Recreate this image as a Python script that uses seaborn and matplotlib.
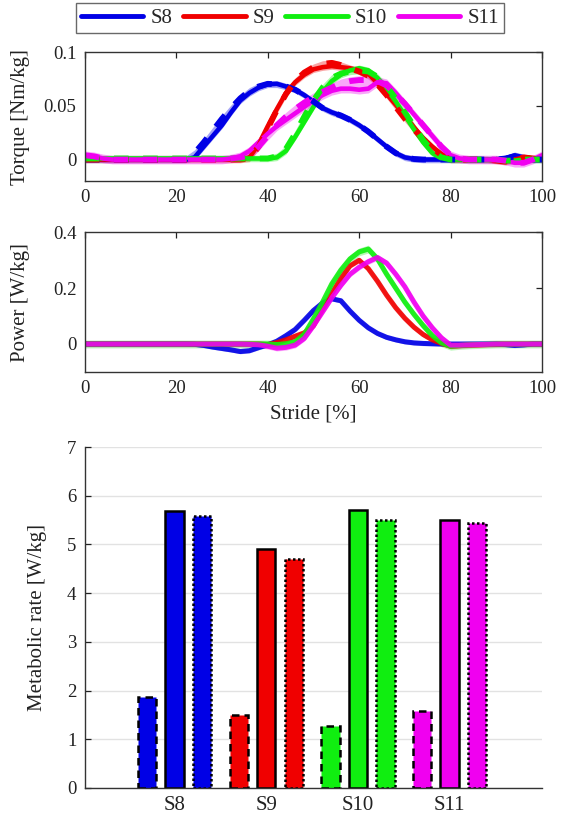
import numpy as np
import pandas as pd
import matplotlib
matplotlib.use("Agg")
import matplotlib.pyplot as plt
from matplotlib.lines import Line2D
import seaborn as sns

# ---------------------------------------------------------------- data
SUBJECTS = ["S8", "S9", "S10", "S11"]
COLORS = ["#0000e6", "#f00000", "#10ee10", "#f000f0"]

STRIDE = list(range(0, 101, 2))  # stride [%]

# ankle torque [Nm/kg], measured (solid) and commanded (dashed)
TORQUE_S8 = [0, 0, 0, 0, 0, 0, 0, 0, 0, 0, 0, 0, 0.002, 0.012, 0.022, 0.032, 0.044,
             0.055, 0.062, 0.067, 0.070, 0.0705, 0.068, 0.065, 0.060, 0.054, 0.048,
             0.044, 0.041, 0.037, 0.032, 0.026, 0.019, 0.012, 0.006, 0.002, 0.0005,
             0, 0, 0, 0, 0, 0, 0, 0, 0, 0.001, 0.004, 0.002, 0, 0]
TORQUE_S8_CMD = [0, 0, 0, 0, 0, 0, 0, 0, 0, 0, 0, 0, 0.006, 0.016, 0.027, 0.038, 0.048,
                 0.057, 0.064, 0.068, 0.0705, 0.070, 0.068, 0.065, 0.060, 0.054, 0.048,
                 0.044, 0.041, 0.037, 0.032, 0.026, 0.019, 0.012, 0.006, 0.002, 0.0005,
                 0, 0, 0, 0, 0, 0, 0, 0, 0, 0.001, 0.003, 0.002, 0, 0]
TORQUE_S9 = [0, 0, 0, 0, 0, 0, 0, 0, 0, 0, 0, 0, 0, 0, 0, 0, 0, 0, 0.002, 0.014, 0.031,
             0.047, 0.062, 0.072, 0.079, 0.084, 0.086, 0.087, 0.086, 0.085, 0.083,
             0.080, 0.071, 0.061, 0.051, 0.041, 0.030, 0.020, 0.012, 0.005, 0.001,
             0, 0, 0, 0, -0.001, -0.002, 0.000, 0.002, 0.001, 0]
TORQUE_S9_CMD = [0, 0, 0, 0, 0, 0, 0, 0, 0, 0, 0, 0, 0, 0, 0, 0, 0, 0, 0.001, 0.012,
                 0.029, 0.046, 0.061, 0.073, 0.081, 0.086, 0.089, 0.090, 0.088, 0.085,
                 0.082, 0.078, 0.070, 0.060, 0.049, 0.038, 0.028, 0.019, 0.011, 0.004,
                 0, 0, 0, 0, 0, -0.001, -0.002, 0.000, 0.002, 0.001, 0]
TORQUE_S10 = [0.001, 0.001, 0.001, 0.001, 0.001, 0.001, 0.001, 0.001, 0.001, 0.001,
              0.001, 0.001, 0.001, 0.001, 0.001, 0.001, 0.001, 0.001, 0.001, 0.001,
              0.001, 0.002, 0.008, 0.021, 0.035, 0.049, 0.063, 0.073, 0.079, 0.083,
              0.085, 0.083, 0.076, 0.066, 0.054, 0.041, 0.028, 0.016, 0.006, 0.001,
              0, 0, 0, 0, 0, 0, -0.001, -0.001, 0, 0, 0]
TORQUE_S10_CMD = [0.001, 0.001, 0.001, 0.001, 0.001, 0.001, 0.001, 0.001, 0.001, 0.001,
                  0.001, 0.001, 0.001, 0.001, 0.001, 0.001, 0.001, 0.001, 0.001, 0.001,
                  0.001, 0.003, 0.010, 0.024, 0.040, 0.055, 0.067, 0.076, 0.080, 0.082,
                  0.083, 0.082, 0.077, 0.068, 0.057, 0.044, 0.031, 0.018, 0.008, 0.002,
                  0, 0, 0, 0, 0, 0, -0.001, -0.001, 0, 0, 0]
TORQUE_S11 = [0.004, 0.003, 0.001, 0, 0, 0, 0, 0, 0, 0, 0, 0, 0, 0, 0, 0, 0.001, 0.003,
              0.008, 0.016, 0.024, 0.031, 0.037, 0.043, 0.049, 0.055, 0.060, 0.064,
              0.066, 0.066, 0.065, 0.066, 0.072, 0.071, 0.062, 0.052, 0.042, 0.032,
              0.022, 0.012, 0.004, 0.001, 0, 0, 0, 0, -0.001, -0.003, -0.003, 0.000, 0.004]
TORQUE_S11_CMD = [0.004, 0.003, 0.001, 0, 0, 0, 0, 0, 0, 0, 0, 0, 0, 0, 0, 0, 0.001,
                  0.002, 0.004, 0.012, 0.022, 0.032, 0.040, 0.047, 0.053, 0.058, 0.063,
                  0.067, 0.071, 0.073, 0.074, 0.074, 0.073, 0.069, 0.061, 0.052, 0.042,
                  0.032, 0.022, 0.012, 0.004, 0.001, 0, 0, 0, 0, -0.001, -0.003, -0.003,
                  0.000, 0.004]

# ankle power [W/kg]
POWER_S8 = [0, 0, 0, 0, 0, 0, 0, 0, 0, 0, 0, 0, -0.001, -0.005, -0.011, -0.016, -0.021,
            -0.027, -0.024, -0.013, -0.003, 0.010, 0.030, 0.052, 0.085, 0.120, 0.147,
            0.162, 0.155, 0.118, 0.085, 0.058, 0.038, 0.024, 0.015, 0.008, 0.004, 0.002,
            0.001, 0, 0, 0, 0, 0, 0, 0, -0.002, -0.005, -0.003, 0, 0]
POWER_S9 = [0, 0, 0, 0, 0, 0, 0, 0, 0, 0, 0, 0, 0, 0, 0, 0, 0, 0, 0, 0, -0.002, 0.005,
            0.015, 0.028, 0.040, 0.065, 0.125, 0.180, 0.235, 0.280, 0.300, 0.270,
            0.225, 0.175, 0.130, 0.092, 0.060, 0.034, 0.015, 0.002, -0.008, -0.006,
            -0.004, -0.003, -0.002, -0.001, 0, 0, 0, 0, 0]
POWER_S10 = [0, 0, 0, 0, 0, 0, 0, 0, 0, 0, 0, 0, 0, 0, 0, 0, 0, 0, 0, 0, 0, -0.002,
             0.001, 0.008, 0.035, 0.090, 0.150, 0.215, 0.265, 0.305, 0.330, 0.340,
             0.305, 0.250, 0.200, 0.150, 0.106, 0.066, 0.030, 0.004, -0.008, -0.005,
             -0.003, -0.002, -0.001, 0, 0, 0, 0, 0, 0]
POWER_S11 = [0, 0, 0, 0, 0, 0, 0, 0, 0, 0, 0, 0, 0, 0, 0, 0, 0, 0, -0.001, -0.003,
             -0.008, -0.015, -0.012, -0.004, 0.020, 0.065, 0.115, 0.165, 0.210, 0.250,
             0.275, 0.295, 0.310, 0.290, 0.250, 0.205, 0.150, 0.100, 0.058, 0.022,
             -0.004, -0.004, -0.003, -0.002, -0.001, 0, 0, 0, 0, 0, 0]

# half-width of the between-stride variability bands
TORQUE_SPREAD = [0.003, 0.003, 0.003, 0.004]
POWER_SPREAD = [0.008, 0.009, 0.014, 0.010]

# metabolic rate [W/kg] per condition
CONDITIONS = ["Standing", "Normal shoes", "Exoskeleton"]
MET_STANDING = [1.87, 1.50, 1.27, 1.58]
MET_NORMAL = [5.68, 4.90, 5.70, 5.50]
MET_EXO = [5.58, 4.70, 5.50, 5.45]

# ---------------------------------------------------------------- tables
torque = [TORQUE_S8, TORQUE_S9, TORQUE_S10, TORQUE_S11]
torque_cmd = [TORQUE_S8_CMD, TORQUE_S9_CMD, TORQUE_S10_CMD, TORQUE_S11_CMD]
power = [POWER_S8, POWER_S9, POWER_S10, POWER_S11]


def long_table(series):
    frames = [pd.DataFrame({"stride": STRIDE, "value": vals, "subject": s})
              for s, vals in zip(SUBJECTS, series)]
    return pd.concat(frames, ignore_index=True)


df_torque = long_table(torque)
df_torque_cmd = long_table(torque_cmd)
df_power = long_table(power)
df_met = pd.DataFrame({
    "subject": SUBJECTS * 3,
    "condition": sum([[c] * 4 for c in CONDITIONS], []),
    "rate": MET_STANDING + MET_NORMAL + MET_EXO,
})

# ---------------------------------------------------------------- style
sns.set_theme(style="white")
plt.rcParams["font.family"] = ["Liberation Serif", "DejaVu Serif"]
TICK_FS = 13.5
LABEL_FS = 15
TEXT_COLOR = "#222222"
palette = dict(zip(SUBJECTS, COLORS))

fig = plt.figure(figsize=(5.73, 8.21), dpi=100)
fig.patch.set_facecolor("white")

ax_t = fig.add_axes([0.148, 0.7795, 0.798, 0.157])
ax_p = fig.add_axes([0.148, 0.547, 0.798, 0.170])
ax_m = fig.add_axes([0.148, 0.0402, 0.798, 0.4153])


def style_box(ax):
    for sp in ax.spines.values():
        sp.set_visible(True)
        sp.set_color("#333333")
        sp.set_linewidth(1.0)
    ax.tick_params(direction="in", length=4, width=0.9, top=True, right=True,
                   labelsize=TICK_FS, colors=TEXT_COLOR, pad=6)
    ax.set_xlim(0, 100)
    ax.set_xticks([0, 20, 40, 60, 80, 100])


# torque: variability band, measured (solid) and commanded (dashed)
for i, s in enumerate(SUBJECTS):
    a = np.array(torque[i])
    b = np.array(torque_cmd[i])
    ax_t.fill_between(STRIDE, np.minimum(a, b) - TORQUE_SPREAD[i],
                      np.maximum(a, b) + TORQUE_SPREAD[i],
                      color=COLORS[i], alpha=0.35, lw=0)
sns.lineplot(data=df_torque, x="stride", y="value", hue="subject", palette=palette,
             lw=3.3, ax=ax_t, legend=False)
sns.lineplot(data=df_torque_cmd, x="stride", y="value", hue="subject", palette=palette,
             lw=4.2, ax=ax_t, legend=False, linestyle=(0, (2.5, 2.5)))
ax_t.set_ylim(-0.02, 0.1)
ax_t.set_yticks([0, 0.05, 0.1])
ax_t.set_yticklabels(["0", "0.05", "0.1"])
ax_t.set_xlabel("")
ax_t.set_ylabel("Torque [Nm/kg]", fontsize=LABEL_FS, color=TEXT_COLOR)
ax_t.yaxis.set_label_coords(-0.12, 0.5)
style_box(ax_t)

# power
for i, s in enumerate(SUBJECTS):
    a = np.array(power[i])
    ax_p.fill_between(STRIDE, a - POWER_SPREAD[i], a + POWER_SPREAD[i],
                      color=COLORS[i], alpha=0.3, lw=0)
sns.lineplot(data=df_power, x="stride", y="value", hue="subject", palette=palette,
             lw=3.6, ax=ax_p, legend=False, alpha=0.9)
ax_p.set_ylim(-0.1, 0.4)
ax_p.set_yticks([0, 0.2, 0.4])
ax_p.set_yticklabels(["0", "0.2", "0.4"])
ax_p.set_xlabel("Stride [%]", fontsize=LABEL_FS, color=TEXT_COLOR, labelpad=5)
ax_p.set_ylabel("Power [W/kg]", fontsize=LABEL_FS, color=TEXT_COLOR)
ax_p.yaxis.set_label_coords(-0.12, 0.5)
style_box(ax_p)

# metabolic rate bars
sns.barplot(data=df_met, x="subject", y="rate", hue="condition", order=SUBJECTS,
            hue_order=CONDITIONS, width=0.9, gap=1 / 3, ax=ax_m, legend=False,
            errorbar=None)
edge_styles = [(0, (3, 2)), "-", (0, (1, 1))]
for cont, ls in zip(ax_m.containers, edge_styles):
    for bar, col in zip(cont, COLORS):
        bar.set_facecolor(col)
        bar.set_edgecolor("black")
        bar.set_linewidth(1.8)
        bar.set_linestyle(ls)
ax_m.set_xlim(-0.98, 4.01)
ax_m.set_ylim(0, 7)
ax_m.set_yticks(range(0, 8))
ax_m.set_xticks(range(len(SUBJECTS)))
ax_m.set_xticklabels(SUBJECTS)
ax_m.yaxis.grid(True, color="#e2e2e2", lw=1)
ax_m.set_axisbelow(True)
for side in ["top", "right"]:
    ax_m.spines[side].set_visible(False)
for side in ["left", "bottom"]:
    ax_m.spines[side].set_visible(True)
    ax_m.spines[side].set_color("#333333")
    ax_m.spines[side].set_linewidth(1.0)
ax_m.tick_params(axis="y", direction="in", length=4, width=0.9, labelsize=TICK_FS,
                 colors=TEXT_COLOR, pad=6, left=True)
ax_m.tick_params(axis="x", length=0, labelsize=LABEL_FS, colors=TEXT_COLOR, pad=6)
ax_m.set_xlabel("")
ax_m.set_ylabel("Metabolic rate [W/kg]", fontsize=LABEL_FS, color=TEXT_COLOR)
ax_m.yaxis.set_label_coords(-0.082, 0.5)

# legend
handles = [Line2D([], [], color=c, lw=3.5) for c in COLORS]
leg = fig.legend(handles, SUBJECTS, loc="center", bbox_to_anchor=(0.506, 0.978),
                 ncol=4, frameon=True, fancybox=False, fontsize=LABEL_FS,
                 handlelength=3.0, handletextpad=0.35, columnspacing=0.5,
                 borderpad=0.25, edgecolor="#444444")
leg.get_frame().set_linewidth(1.0)

fig.savefig("out.png", dpi=100, facecolor="white")
